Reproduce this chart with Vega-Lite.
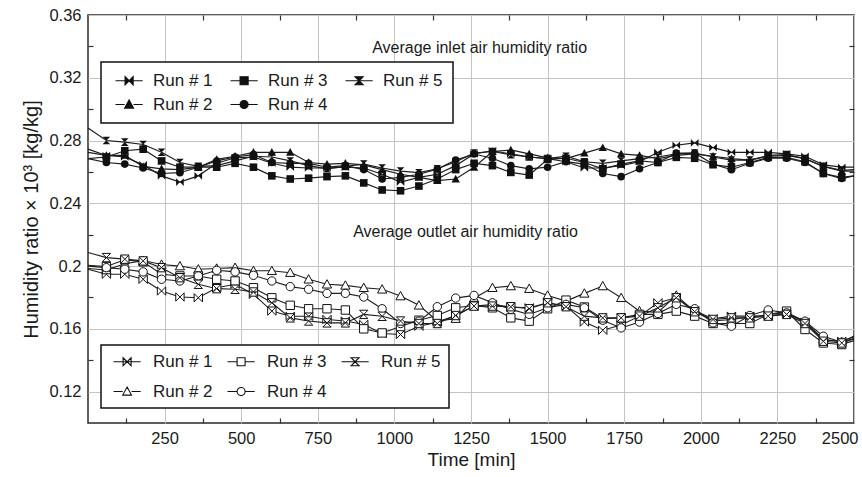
{
  "$schema": "https://vega.github.io/schema/vega-lite/v6.json",
  "width": 766,
  "height": 408,
  "autosize": {"type": "none"},
  "padding": {"left": 88, "top": 15, "right": 8, "bottom": 54},
  "config": {
    "font": "Liberation Sans",
    "view": {"stroke": "#2a2a2a", "strokeWidth": 1.5},
    "axis": {"labelColor": "#1a1a1a", "titleColor": "#1a1a1a", "tickColor": "#333333", "tickWidth": 1.2},
    "legend": {"strokeWidth": 1.5}
  },
  "datasets": {
    "inlet": [
      {"t": 0, "Run # 1": 0.2725, "Run # 2": 0.2745, "Run # 3": 0.2685, "Run # 4": 0.2685, "Run # 5": 0.288},
      {"t": 60, "Run # 1": 0.2705, "Run # 2": 0.2705, "Run # 3": 0.2695, "Run # 4": 0.266, "Run # 5": 0.28},
      {"t": 120, "Run # 1": 0.2695, "Run # 2": 0.2705, "Run # 3": 0.2735, "Run # 4": 0.265, "Run # 5": 0.279},
      {"t": 180, "Run # 1": 0.2645, "Run # 2": 0.2635, "Run # 3": 0.2745, "Run # 4": 0.2625, "Run # 5": 0.2775},
      {"t": 240, "Run # 1": 0.2575, "Run # 2": 0.262, "Run # 3": 0.267, "Run # 4": 0.259, "Run # 5": 0.2725},
      {"t": 300, "Run # 1": 0.2535, "Run # 2": 0.2615, "Run # 3": 0.263, "Run # 4": 0.2595, "Run # 5": 0.266},
      {"t": 360, "Run # 1": 0.2575, "Run # 2": 0.263, "Run # 3": 0.263, "Run # 4": 0.263, "Run # 5": 0.2635},
      {"t": 420, "Run # 1": 0.2655, "Run # 2": 0.268, "Run # 3": 0.263, "Run # 4": 0.267, "Run # 5": 0.264},
      {"t": 480, "Run # 1": 0.269, "Run # 2": 0.27, "Run # 3": 0.2655, "Run # 4": 0.2695, "Run # 5": 0.267},
      {"t": 540, "Run # 1": 0.2695, "Run # 2": 0.2725, "Run # 3": 0.263, "Run # 4": 0.271, "Run # 5": 0.27},
      {"t": 600, "Run # 1": 0.2655, "Run # 2": 0.2725, "Run # 3": 0.2575, "Run # 4": 0.266, "Run # 5": 0.2695},
      {"t": 660, "Run # 1": 0.263, "Run # 2": 0.2725, "Run # 3": 0.2555, "Run # 4": 0.2655, "Run # 5": 0.267},
      {"t": 720, "Run # 1": 0.2625, "Run # 2": 0.266, "Run # 3": 0.256, "Run # 4": 0.2655, "Run # 5": 0.264},
      {"t": 780, "Run # 1": 0.2625, "Run # 2": 0.265, "Run # 3": 0.257, "Run # 4": 0.263, "Run # 5": 0.262},
      {"t": 840, "Run # 1": 0.263, "Run # 2": 0.2655, "Run # 3": 0.2575, "Run # 4": 0.264, "Run # 5": 0.2635},
      {"t": 900, "Run # 1": 0.2625, "Run # 2": 0.2645, "Run # 3": 0.253, "Run # 4": 0.2615, "Run # 5": 0.265},
      {"t": 960, "Run # 1": 0.2585, "Run # 2": 0.2615, "Run # 3": 0.2485, "Run # 4": 0.2555, "Run # 5": 0.2625},
      {"t": 1020, "Run # 1": 0.2535, "Run # 2": 0.2585, "Run # 3": 0.248, "Run # 4": 0.2565, "Run # 5": 0.2605},
      {"t": 1080, "Run # 1": 0.2565, "Run # 2": 0.2565, "Run # 3": 0.251, "Run # 4": 0.2585, "Run # 5": 0.2595},
      {"t": 1140, "Run # 1": 0.2585, "Run # 2": 0.2545, "Run # 3": 0.2555, "Run # 4": 0.2618, "Run # 5": 0.262},
      {"t": 1200, "Run # 1": 0.264, "Run # 2": 0.2555, "Run # 3": 0.2615, "Run # 4": 0.2676, "Run # 5": 0.2665},
      {"t": 1260, "Run # 1": 0.2715, "Run # 2": 0.263, "Run # 3": 0.2655, "Run # 4": 0.2714, "Run # 5": 0.272},
      {"t": 1320, "Run # 1": 0.2735, "Run # 2": 0.273, "Run # 3": 0.264, "Run # 4": 0.2687, "Run # 5": 0.273},
      {"t": 1380, "Run # 1": 0.2715, "Run # 2": 0.274, "Run # 3": 0.2597, "Run # 4": 0.264, "Run # 5": 0.271},
      {"t": 1440, "Run # 1": 0.2695, "Run # 2": 0.2715, "Run # 3": 0.258, "Run # 4": 0.262, "Run # 5": 0.2695},
      {"t": 1500, "Run # 1": 0.2685, "Run # 2": 0.269, "Run # 3": 0.268, "Run # 4": 0.263, "Run # 5": 0.2685},
      {"t": 1560, "Run # 1": 0.2665, "Run # 2": 0.2685, "Run # 3": 0.2687, "Run # 4": 0.2665, "Run # 5": 0.27},
      {"t": 1620, "Run # 1": 0.2625, "Run # 2": 0.272, "Run # 3": 0.266, "Run # 4": 0.265, "Run # 5": 0.2665},
      {"t": 1680, "Run # 1": 0.2625, "Run # 2": 0.2755, "Run # 3": 0.262, "Run # 4": 0.259, "Run # 5": 0.2655},
      {"t": 1740, "Run # 1": 0.264, "Run # 2": 0.2715, "Run # 3": 0.265, "Run # 4": 0.257, "Run # 5": 0.267},
      {"t": 1800, "Run # 1": 0.2665, "Run # 2": 0.2705, "Run # 3": 0.267, "Run # 4": 0.262, "Run # 5": 0.2685},
      {"t": 1860, "Run # 1": 0.2725, "Run # 2": 0.2685, "Run # 3": 0.266, "Run # 4": 0.266, "Run # 5": 0.2695},
      {"t": 1920, "Run # 1": 0.277, "Run # 2": 0.2705, "Run # 3": 0.2693, "Run # 4": 0.272, "Run # 5": 0.2715},
      {"t": 1980, "Run # 1": 0.2785, "Run # 2": 0.2715, "Run # 3": 0.2687, "Run # 4": 0.272, "Run # 5": 0.272},
      {"t": 2040, "Run # 1": 0.2755, "Run # 2": 0.27, "Run # 3": 0.2646, "Run # 4": 0.265, "Run # 5": 0.2695},
      {"t": 2100, "Run # 1": 0.2725, "Run # 2": 0.2685, "Run # 3": 0.263, "Run # 4": 0.2614, "Run # 5": 0.2675},
      {"t": 2160, "Run # 1": 0.2725, "Run # 2": 0.2675, "Run # 3": 0.266, "Run # 4": 0.2655, "Run # 5": 0.2675},
      {"t": 2220, "Run # 1": 0.2725, "Run # 2": 0.27, "Run # 3": 0.2693, "Run # 4": 0.2687, "Run # 5": 0.2705},
      {"t": 2280, "Run # 1": 0.2715, "Run # 2": 0.2705, "Run # 3": 0.2693, "Run # 4": 0.2687, "Run # 5": 0.271},
      {"t": 2340, "Run # 1": 0.27, "Run # 2": 0.2685, "Run # 3": 0.2665, "Run # 4": 0.266, "Run # 5": 0.2685},
      {"t": 2400, "Run # 1": 0.2645, "Run # 2": 0.2635, "Run # 3": 0.259, "Run # 4": 0.259, "Run # 5": 0.2635},
      {"t": 2460, "Run # 1": 0.263, "Run # 2": 0.2605, "Run # 3": 0.2565, "Run # 4": 0.2558, "Run # 5": 0.261},
      {"t": 2500, "Run # 1": 0.263, "Run # 2": 0.2605, "Run # 3": 0.2575, "Run # 4": 0.2575, "Run # 5": 0.2615}
    ],
    "outlet": [
      {"t": 0, "Run # 1": 0.198, "Run # 2": 0.1985, "Run # 3": 0.2005, "Run # 4": 0.2, "Run # 5": 0.2087},
      {"t": 60, "Run # 1": 0.1948, "Run # 2": 0.1975, "Run # 3": 0.1997, "Run # 4": 0.199, "Run # 5": 0.2054},
      {"t": 120, "Run # 1": 0.1948, "Run # 2": 0.2015, "Run # 3": 0.204, "Run # 4": 0.198, "Run # 5": 0.2044},
      {"t": 180, "Run # 1": 0.1916, "Run # 2": 0.2035, "Run # 3": 0.2027, "Run # 4": 0.1963, "Run # 5": 0.2033},
      {"t": 240, "Run # 1": 0.1841, "Run # 2": 0.201, "Run # 3": 0.1948, "Run # 4": 0.1916, "Run # 5": 0.199},
      {"t": 300, "Run # 1": 0.1803, "Run # 2": 0.2, "Run # 3": 0.1937, "Run # 4": 0.1905, "Run # 5": 0.1926},
      {"t": 360, "Run # 1": 0.1798, "Run # 2": 0.198, "Run # 3": 0.1937, "Run # 4": 0.1937, "Run # 5": 0.1884},
      {"t": 420, "Run # 1": 0.1862, "Run # 2": 0.1985, "Run # 3": 0.1916, "Run # 4": 0.1973, "Run # 5": 0.1856},
      {"t": 480, "Run # 1": 0.1884, "Run # 2": 0.199, "Run # 3": 0.1905, "Run # 4": 0.1963, "Run # 5": 0.1852},
      {"t": 540, "Run # 1": 0.182, "Run # 2": 0.197, "Run # 3": 0.1862, "Run # 4": 0.1941, "Run # 5": 0.1835},
      {"t": 600, "Run # 1": 0.1713, "Run # 2": 0.197, "Run # 3": 0.1798, "Run # 4": 0.1905, "Run # 5": 0.1766},
      {"t": 660, "Run # 1": 0.168, "Run # 2": 0.1958, "Run # 3": 0.175, "Run # 4": 0.1869, "Run # 5": 0.167},
      {"t": 720, "Run # 1": 0.168, "Run # 2": 0.1916, "Run # 3": 0.1728, "Run # 4": 0.1852, "Run # 5": 0.165},
      {"t": 780, "Run # 1": 0.166, "Run # 2": 0.1884, "Run # 3": 0.1728, "Run # 4": 0.1826, "Run # 5": 0.1638},
      {"t": 840, "Run # 1": 0.165, "Run # 2": 0.1877, "Run # 3": 0.172, "Run # 4": 0.1826, "Run # 5": 0.1638},
      {"t": 900, "Run # 1": 0.1628, "Run # 2": 0.1862, "Run # 3": 0.16, "Run # 4": 0.1803, "Run # 5": 0.1692},
      {"t": 960, "Run # 1": 0.157, "Run # 2": 0.1852, "Run # 3": 0.1574, "Run # 4": 0.1728, "Run # 5": 0.168},
      {"t": 1020, "Run # 1": 0.1564, "Run # 2": 0.1809, "Run # 3": 0.1615, "Run # 4": 0.1634, "Run # 5": 0.165},
      {"t": 1080, "Run # 1": 0.1617, "Run # 2": 0.175, "Run # 3": 0.1655, "Run # 4": 0.1649, "Run # 5": 0.1634},
      {"t": 1140, "Run # 1": 0.1643, "Run # 2": 0.165, "Run # 3": 0.1685, "Run # 4": 0.1741, "Run # 5": 0.1634},
      {"t": 1200, "Run # 1": 0.1685, "Run # 2": 0.1665, "Run # 3": 0.1734, "Run # 4": 0.1796, "Run # 5": 0.1685},
      {"t": 1260, "Run # 1": 0.1745, "Run # 2": 0.1795, "Run # 3": 0.1749, "Run # 4": 0.1813, "Run # 5": 0.1745},
      {"t": 1320, "Run # 1": 0.1755, "Run # 2": 0.1862, "Run # 3": 0.1734, "Run # 4": 0.1766, "Run # 5": 0.1745},
      {"t": 1380, "Run # 1": 0.1739, "Run # 2": 0.1873, "Run # 3": 0.167, "Run # 4": 0.1724, "Run # 5": 0.1741},
      {"t": 1440, "Run # 1": 0.1734, "Run # 2": 0.1856, "Run # 3": 0.1649, "Run # 4": 0.1692, "Run # 5": 0.1728},
      {"t": 1500, "Run # 1": 0.1766, "Run # 2": 0.1813, "Run # 3": 0.1728, "Run # 4": 0.1734, "Run # 5": 0.1766},
      {"t": 1560, "Run # 1": 0.1745, "Run # 2": 0.1777, "Run # 3": 0.1783, "Run # 4": 0.1756, "Run # 5": 0.1741},
      {"t": 1620, "Run # 1": 0.1643, "Run # 2": 0.1826, "Run # 3": 0.1739, "Run # 4": 0.1734, "Run # 5": 0.1681},
      {"t": 1680, "Run # 1": 0.1591, "Run # 2": 0.1873, "Run # 3": 0.1664, "Run # 4": 0.1655, "Run # 5": 0.167},
      {"t": 1740, "Run # 1": 0.1625, "Run # 2": 0.1798, "Run # 3": 0.167, "Run # 4": 0.1606, "Run # 5": 0.167},
      {"t": 1800, "Run # 1": 0.1681, "Run # 2": 0.1713, "Run # 3": 0.1692, "Run # 4": 0.1643, "Run # 5": 0.1681},
      {"t": 1860, "Run # 1": 0.1766, "Run # 2": 0.1705, "Run # 3": 0.1692, "Run # 4": 0.1698, "Run # 5": 0.1734},
      {"t": 1920, "Run # 1": 0.1798, "Run # 2": 0.1813, "Run # 3": 0.1713, "Run # 4": 0.1756, "Run # 5": 0.1798},
      {"t": 1980, "Run # 1": 0.1715, "Run # 2": 0.171, "Run # 3": 0.1681, "Run # 4": 0.1728, "Run # 5": 0.1709},
      {"t": 2040, "Run # 1": 0.1664, "Run # 2": 0.165, "Run # 3": 0.1634, "Run # 4": 0.1638, "Run # 5": 0.166},
      {"t": 2100, "Run # 1": 0.1681, "Run # 2": 0.166, "Run # 3": 0.1634, "Run # 4": 0.1617, "Run # 5": 0.167},
      {"t": 2160, "Run # 1": 0.1681, "Run # 2": 0.1675, "Run # 3": 0.1634, "Run # 4": 0.1685, "Run # 5": 0.167},
      {"t": 2220, "Run # 1": 0.1681, "Run # 2": 0.169, "Run # 3": 0.1692, "Run # 4": 0.172, "Run # 5": 0.1681},
      {"t": 2280, "Run # 1": 0.1698, "Run # 2": 0.1705, "Run # 3": 0.1713, "Run # 4": 0.1702, "Run # 5": 0.1692},
      {"t": 2340, "Run # 1": 0.1643, "Run # 2": 0.1645, "Run # 3": 0.1596, "Run # 4": 0.1649, "Run # 5": 0.1634},
      {"t": 2400, "Run # 1": 0.1527, "Run # 2": 0.1535, "Run # 3": 0.151, "Run # 4": 0.1553, "Run # 5": 0.1521},
      {"t": 2460, "Run # 1": 0.1521, "Run # 2": 0.1515, "Run # 3": 0.15, "Run # 4": 0.1515, "Run # 5": 0.151},
      {"t": 2500, "Run # 1": 0.155, "Run # 2": 0.154, "Run # 3": 0.1525, "Run # 4": 0.1555, "Run # 5": 0.1535}
    ],
    "notes": [
      {"t": 1278, "v": 0.339, "label": "Average inlet air humidity ratio"},
      {"t": 1232, "v": 0.2217, "label": "Average outlet air humidity ratio"}
    ]
  },
  "resolve": {
    "scale": {"shape": "independent", "stroke": "independent"},
    "legend": {"shape": "independent", "stroke": "independent"},
    "axis": {"x": "independent", "y": "independent"}
  },
  "layer": [
    {
      "data": {"name": "inlet"},
      "transform": [{"fold": ["Run # 1", "Run # 2", "Run # 3", "Run # 4", "Run # 5"], "as": ["run", "v"]}],
      "mark": {"type": "line", "color": "#1e1e1e", "strokeWidth": 1.2},
      "encoding": {
        "x": {"field": "t", "type": "quantitative", "scale": {"domain": [0, 2500], "nice": false},
          "axis": {"orient": "bottom", "values": [250, 500, 750, 1000, 1250, 1500, 1750, 2000, 2250, 2500], "format": "d", "ticks": false, "domain": false,
            "grid": true, "gridColor": "#c4c4c4", "gridWidth": 1, "labelFontSize": 16.5, "labelPadding": 7, "labelFlush": true, "labelFlushOffset": 4,
            "title": "Time [min]", "titleFontSize": 19, "titleFontWeight": "normal", "titlePadding": 4}},
        "y": {"field": "v", "type": "quantitative", "scale": {"domain": [0.1, 0.36], "nice": false, "zero": false},
          "axis": {"orient": "left", "values": [0.12, 0.16, 0.2, 0.24, 0.28, 0.32, 0.36], "format": "~g", "ticks": false, "domain": false,
            "grid": true, "gridColor": "#c4c4c4", "gridWidth": 1, "labelFontSize": 16.5, "labelPadding": 7,
            "title": "Humidity ratio × 10³ [kg/kg]", "titleFontSize": 20, "titleFontWeight": "normal", "titlePadding": 7}},
        "detail": {"field": "run"}
      }
    },
    {
      "data": {"name": "inlet"},
      "transform": [
        {"fold": ["Run # 1", "Run # 2", "Run # 3", "Run # 4", "Run # 5"], "as": ["run", "v"]},
        {"filter": "datum.t > 0 && datum.t < 2500"}
      ],
      "mark": {"type": "point", "filled": true, "color": "#111111", "size": 58, "opacity": 1},
      "encoding": {
        "x": {"field": "t", "type": "quantitative",
          "axis": {"orient": "top", "values": [125, 375, 625, 875, 1125, 1375, 1625, 1875, 2125, 2375], "labels": false, "ticks": true, "tickSize": -5, "domain": false, "grid": false, "title": null}},
        "y": {"field": "v", "type": "quantitative",
          "axis": {"orient": "right", "values": [0.14, 0.18, 0.22, 0.26, 0.3, 0.34], "labels": false, "ticks": true, "tickSize": -5, "domain": false, "grid": false, "title": null}},
        "shape": {"field": "run", "type": "nominal", "legend": null,
          "scale": {"domain": ["Run # 1", "Run # 2", "Run # 3", "Run # 4", "Run # 5"],
            "range": ["M-1,-1L0,0L-1,1ZM1,-1L0,0L1,1Z", "M0,-1.1L1.1,0.9L-1.1,0.9Z", "M-1,-1L1,-1L1,1L-1,1Z", "circle", "M-1,-1L1,-1L0,0ZM-1,1L1,1L0,0Z"]}}
      }
    },
    {
      "data": {"name": "inlet"},
      "transform": [
        {"fold": ["Run # 1", "Run # 2", "Run # 3", "Run # 4", "Run # 5"], "as": ["run", "v"]},
        {"filter": "datum.t == 60"}
      ],
      "mark": {"type": "point", "filled": true, "color": "#111111", "size": 64, "strokeWidth": 1.2, "opacity": 0},
      "encoding": {
        "x": {"field": "t", "type": "quantitative", "axis": null},
        "y": {"field": "v", "type": "quantitative", "axis": null},
        "stroke": {"field": "run", "type": "nominal",
          "scale": {"domain": ["Run # 1", "Run # 3", "Run # 5", "Run # 2", "Run # 4"], "range": ["#111111", "#111111", "#111111", "#111111", "#111111"]}},
        "shape": {"field": "run", "type": "nominal",
          "scale": {"domain": ["Run # 1", "Run # 3", "Run # 5", "Run # 2", "Run # 4"],
            "range": ["M-1,0L5.8,0M1.4,-1L2.4,0L1.4,1ZM3.4,-1L2.4,0L3.4,1Z", "M-1,0L1.4,0M3.4,0L5.8,0M1.4,-1L3.4,-1L3.4,1L1.4,1Z", "M-1,0L5.8,0M1.4,-1L3.4,-1L2.4,0ZM1.4,1L3.4,1L2.4,0Z", "M-1,0L1.3,0M3.5,0L5.8,0M2.4,-1.1L3.5,0.9L1.3,0.9Z", "M-1,0L1.4,0M3.4,0L5.8,0M1.4,0A1,1,0,1,0,3.4,0A1,1,0,1,0,1.4,0Z"]},
          "legend": {"orient": "none", "legendX": 13, "legendY": 47, "columns": 3, "title": null, "direction": "horizontal",
            "strokeColor": "#111111", "fillColor": "white", "padding": 10, "columnPadding": 13, "rowPadding": 6,
            "labelFontSize": 17, "labelColor": "#1a1a1a", "labelOffset": 25, "symbolSize": 64,
            "symbolOpacity": 1, "symbolFillColor": "#111111", "symbolStrokeColor": "#111111", "symbolStrokeWidth": 1.2}
        }
      }
    },
    {
      "data": {"name": "outlet"},
      "transform": [{"fold": ["Run # 1", "Run # 2", "Run # 3", "Run # 4", "Run # 5"], "as": ["run", "v"]}],
      "mark": {"type": "line", "color": "#1e1e1e", "strokeWidth": 1.1},
      "encoding": {
        "x": {"field": "t", "type": "quantitative",
          "axis": {"orient": "bottom", "values": [125, 375, 625, 875, 1125, 1375, 1625, 1875, 2125, 2375], "labels": false, "ticks": true, "tickSize": -5, "domain": false, "grid": false, "title": null}},
        "y": {"field": "v", "type": "quantitative",
          "axis": {"orient": "left", "values": [0.14, 0.18, 0.22, 0.26, 0.3, 0.34], "labels": false, "ticks": true, "tickSize": -5, "domain": false, "grid": false, "title": null}},
        "detail": {"field": "run"}
      }
    },
    {
      "data": {"name": "outlet"},
      "transform": [
        {"fold": ["Run # 1", "Run # 2", "Run # 3", "Run # 4", "Run # 5"], "as": ["run", "v"]},
        {"filter": "datum.t > 0 && datum.t < 2500"}
      ],
      "mark": {"type": "point", "filled": true, "fill": "white", "stroke": "#111111", "strokeWidth": 1, "size": 70, "opacity": 1},
      "encoding": {
        "x": {"field": "t", "type": "quantitative", "axis": null},
        "y": {"field": "v", "type": "quantitative", "axis": null},
        "shape": {"field": "run", "type": "nominal", "legend": null,
          "scale": {"domain": ["Run # 1", "Run # 2", "Run # 3", "Run # 4", "Run # 5"],
            "range": ["M-1,-1L0,0L-1,1ZM1,-1L0,0L1,1Z", "M0,-1.1L1.1,0.9L-1.1,0.9Z", "M-1,-1L1,-1L1,1L-1,1Z", "circle", "M-1,-1L1,-1L0,0ZM-1,1L1,1L0,0Z"]}}
      }
    },
    {
      "data": {"name": "outlet"},
      "transform": [
        {"fold": ["Run # 1", "Run # 2", "Run # 3", "Run # 4", "Run # 5"], "as": ["run", "v"]},
        {"filter": "datum.t == 60"}
      ],
      "mark": {"type": "point", "filled": true, "fill": "white", "size": 64, "strokeWidth": 1.1, "opacity": 0},
      "encoding": {
        "x": {"field": "t", "type": "quantitative", "axis": null},
        "y": {"field": "v", "type": "quantitative", "axis": null},
        "stroke": {"field": "run", "type": "nominal",
          "scale": {"domain": ["Run # 1", "Run # 3", "Run # 5", "Run # 2", "Run # 4"], "range": ["#111111", "#111111", "#111111", "#111111", "#111111"]}},
        "shape": {"field": "run", "type": "nominal",
          "scale": {"domain": ["Run # 1", "Run # 3", "Run # 5", "Run # 2", "Run # 4"],
            "range": ["M-1,0L5.8,0M1.4,-1L2.4,0L1.4,1ZM3.4,-1L2.4,0L3.4,1Z", "M-1,0L1.4,0M3.4,0L5.8,0M1.4,-1L3.4,-1L3.4,1L1.4,1Z", "M-1,0L5.8,0M1.4,-1L3.4,-1L2.4,0ZM1.4,1L3.4,1L2.4,0Z", "M-1,0L1.3,0M3.5,0L5.8,0M2.4,-1.1L3.5,0.9L1.3,0.9Z", "M-1,0L1.4,0M3.4,0L5.8,0M1.4,0A1,1,0,1,0,3.4,0A1,1,0,1,0,1.4,0Z"]},
          "legend": {"orient": "none", "legendX": 13, "legendY": 330, "columns": 3, "title": null, "direction": "horizontal",
            "strokeColor": "#111111", "fillColor": "white", "padding": 8, "columnPadding": 10, "rowPadding": 12,
            "labelFontSize": 17, "labelColor": "#1a1a1a", "labelOffset": 27, "symbolSize": 64,
            "symbolOpacity": 1, "symbolFillColor": "#ffffff", "symbolStrokeColor": "#111111", "symbolStrokeWidth": 1.1}
        }
      }
    },
    {
      "data": {"name": "notes"},
      "mark": {"type": "text", "fontSize": 16, "color": "#1a1a1a", "align": "center", "baseline": "middle"},
      "encoding": {
        "x": {"field": "t", "type": "quantitative", "axis": null},
        "y": {"field": "v", "type": "quantitative", "axis": null},
        "text": {"field": "label"}
      }
    }
  ]
}
